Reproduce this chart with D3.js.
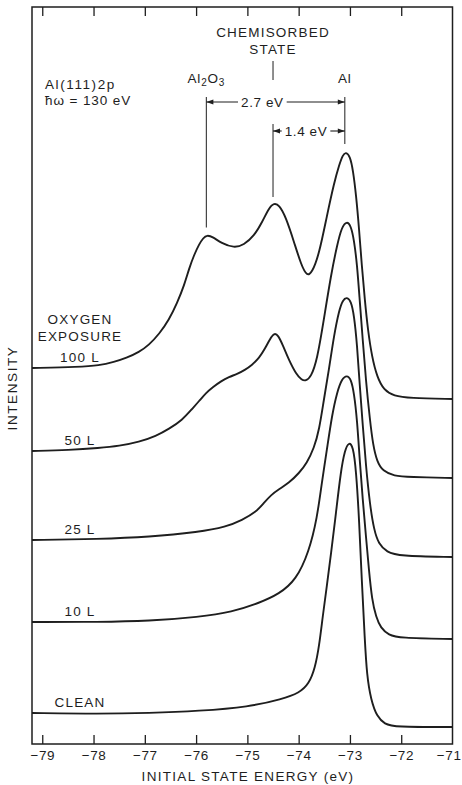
<!DOCTYPE html>
<html>
<head>
<meta charset="utf-8">
<script src="https://cdn.jsdelivr.net/npm/d3@7"></script>
<style>
  html, body { margin: 0; padding: 0; background: #fff; }
  svg { display: block; font-family: "Liberation Sans", Arial, Helvetica, sans-serif; }
</style>
</head>
<body>
<svg id="chart" width="462" height="785"></svg>
<script>
// Al(111) 2p photoemission spectra after increasing oxygen exposure.
// Each spectrum: [initial state energy (eV), intensity (arb. units, stacked)]
const energyTicks = [-79, -78, -77, -76, -75, -74, -73, -72, -71];
const exposureLabels = ["100 L", "50 L", "25 L", "10 L", "CLEAN"];

const spectrum100L = [
  [-79.2, 37.6], [-78.28, 37.7], [-77.89, 37.85], [-77.60, 38.2], [-77.36, 38.6],
  [-77.11, 39.2], [-76.92, 39.9], [-76.72, 41.0], [-76.53, 42.4], [-76.37, 44.1],
  [-76.23, 45.9], [-76.14, 47.5], [-76.04, 48.9], [-75.94, 50.0], [-75.86, 50.6],
  [-75.79, 50.9], [-75.67, 50.7], [-75.51, 50.1], [-75.26, 49.6], [-75.07, 49.9],
  [-74.87, 50.8], [-74.71, 52.2], [-74.58, 53.6], [-74.48, 54.1], [-74.38, 53.9],
  [-74.25, 52.7], [-74.09, 50.2], [-73.95, 47.9], [-73.84, 46.8], [-73.74, 47.1],
  [-73.60, 49.0], [-73.45, 52.8], [-73.31, 56.1], [-73.21, 57.9], [-73.14, 58.9],
  [-73.08, 59.2], [-73.00, 58.8], [-72.94, 57.4], [-72.88, 54.9], [-72.82, 51.4],
  [-72.77, 47.9], [-72.71, 44.4], [-72.65, 41.4], [-72.57, 38.7], [-72.47, 36.7],
  [-72.34, 35.4], [-72.14, 34.8], [-71.85, 34.6], [-71.0, 34.5]
];

const spectrum50L = [
  [-79.2, 29.3], [-78.47, 29.4], [-77.89, 29.6], [-77.50, 29.8], [-77.11, 30.2],
  [-76.78, 30.8], [-76.53, 31.5], [-76.27, 32.4], [-76.08, 33.5], [-75.94, 34.3],
  [-75.81, 35.1], [-75.67, 35.7], [-75.51, 36.3], [-75.36, 36.7], [-75.20, 37.0],
  [-75.05, 37.4], [-74.91, 37.9], [-74.77, 38.6], [-74.66, 39.5], [-74.56, 40.5],
  [-74.48, 41.1], [-74.40, 40.9], [-74.31, 39.9], [-74.19, 38.4], [-74.05, 37.0],
  [-73.94, 36.4], [-73.86, 36.3], [-73.76, 36.7], [-73.64, 38.4], [-73.51, 42.4],
  [-73.37, 46.9], [-73.25, 49.9], [-73.16, 51.7], [-73.06, 52.3], [-72.98, 51.8],
  [-72.92, 50.4], [-72.86, 47.9], [-72.81, 44.4], [-72.75, 40.4], [-72.69, 36.4],
  [-72.61, 32.4], [-72.55, 29.9], [-72.47, 28.2], [-72.36, 27.3], [-72.14, 26.8],
  [-71.85, 26.7], [-71.0, 26.6]
];

const spectrum25L = [
  [-79.2, 20.4], [-77.89, 20.5], [-76.92, 20.7], [-75.94, 21.2], [-75.42, 21.7],
  [-75.10, 22.4], [-74.83, 23.2], [-74.68, 24.1], [-74.54, 24.9], [-74.38, 25.5],
  [-74.19, 26.1], [-73.99, 27.1], [-73.84, 28.1], [-73.70, 29.6], [-73.60, 31.4],
  [-73.51, 34.4], [-73.41, 37.4], [-73.31, 40.9], [-73.21, 43.4], [-73.14, 44.4],
  [-73.06, 44.7], [-72.98, 44.3], [-72.92, 42.9], [-72.86, 39.9], [-72.81, 35.9],
  [-72.75, 31.9], [-72.69, 27.9], [-72.61, 23.9], [-72.53, 21.4], [-72.44, 20.0],
  [-72.28, 19.2], [-72.05, 18.8], [-71.0, 18.7]
];

const spectrum10L = [
  [-79.2, 12.2], [-77.89, 12.2], [-76.92, 12.3], [-75.94, 12.7], [-75.30, 13.2],
  [-74.77, 14.1], [-74.38, 15.0], [-74.05, 16.4], [-73.80, 19.2], [-73.64, 22.6],
  [-73.55, 26.1], [-73.45, 29.4], [-73.35, 32.9], [-73.25, 35.2], [-73.16, 36.5],
  [-73.06, 36.9], [-72.98, 36.5], [-72.92, 35.1], [-72.86, 32.4], [-72.81, 28.4],
  [-72.75, 24.4], [-72.69, 20.9], [-72.63, 17.4], [-72.57, 14.4], [-72.49, 12.7],
  [-72.40, 11.6], [-72.24, 10.9], [-72.05, 10.6], [-71.0, 10.5]
];

const spectrumClean = [
  [-79.2, 3.1], [-77.89, 3.0], [-76.92, 3.1], [-75.94, 3.3], [-74.97, 3.7],
  [-74.32, 4.5], [-73.99, 5.1], [-73.80, 6.0], [-73.68, 7.6], [-73.60, 9.8],
  [-73.53, 12.8], [-73.45, 15.8], [-73.37, 19.0], [-73.27, 23.2], [-73.18, 27.2],
  [-73.10, 29.4], [-73.02, 30.2], [-72.94, 29.8], [-72.88, 27.4], [-72.82, 22.4],
  [-72.77, 16.4], [-72.71, 10.4], [-72.67, 6.9], [-72.59, 4.4], [-72.47, 2.7],
  [-72.32, 2.0], [-72.14, 1.7], [-71.0, 1.7]
];

// Component binding energies marked above the top spectrum
const alEnergy = -73.1;
const chemisorbedEnergy = -74.5;
const oxideEnergy = -75.8;
const shiftOxide = 2.7;        // eV, Al2O3 relative to Al
const shiftChemisorbed = 1.4;  // eV, chemisorbed relative to Al

const spectra = [spectrum100L, spectrum50L, spectrum25L, spectrum10L, spectrumClean];

// ---------------------------------------------------------------- layout
const svg = d3.select("#chart");
const ink = "#1e1e1e";
const frame = { left: 32, right: 452.5, top: 7, bottom: 744 };

const x = d3.scaleLinear().domain([-79.2, -71]).range([frame.left, frame.right]);
const y = d3.scaleLinear().domain([0, 73.7]).range([frame.bottom, frame.top]);

// value of a spectrum at energy e (linear between read points)
function valueAt(spec, e) {
  for (let i = 1; i < spec.length; i++) {
    if (spec[i][0] >= e) {
      const [e0, v0] = spec[i - 1], [e1, v1] = spec[i];
      return v0 + (v1 - v0) * (e - e0) / (e1 - e0);
    }
  }
  return spec[spec.length - 1][1];
}

// frame
svg.append("rect")
  .attr("x", frame.left).attr("y", frame.top)
  .attr("width", frame.right - frame.left).attr("height", frame.bottom - frame.top)
  .attr("fill", "none").attr("stroke", ink).attr("stroke-width", 1.5);

// bottom axis with inward ticks
const xAxis = svg.append("g")
  .attr("transform", `translate(0,${frame.bottom})`)
  .call(d3.axisBottom(x).tickValues(energyTicks).tickSizeInner(-9).tickSizeOuter(0).tickPadding(6));
xAxis.select(".domain").remove();
xAxis.selectAll(".tick line").attr("stroke", ink).attr("stroke-width", 1.3);
xAxis.selectAll(".tick text")
  .attr("fill", ink).style("font-size", "13.5px").style("letter-spacing", "0.6px")
  .style("font-family", "'Liberation Sans', Arial, sans-serif");
const lastTick = xAxis.selectAll(".tick").filter(d => d === -71);
lastTick.select("line").remove();
// keep the corner label inside the page
lastTick.select("text").attr("text-anchor", "end").attr("x", 462 - x(-71) - 1);

// top axis, ticks only
const xTop = svg.append("g")
  .attr("transform", `translate(0,${frame.top})`)
  .call(d3.axisTop(x).tickValues(energyTicks.slice(0, -1)).tickSizeInner(-9).tickSizeOuter(0).tickFormat(""));
xTop.select(".domain").remove();
xTop.selectAll(".tick line").attr("stroke", ink).attr("stroke-width", 1.3);

// spectra, drawn as smooth B-splines through the read points
const line = d3.line()
  .x(d => x(d[0]))
  .y(d => y(d[1]))
  .curve(d3.curveBasis);

svg.append("g").selectAll("path")
  .data(spectra)
  .join("path")
  .attr("d", line)
  .attr("fill", "none")
  .attr("stroke", ink)
  .attr("stroke-width", 1.9)
  .attr("stroke-linejoin", "round");

// text helper
function label(txt, px, py, opts = {}) {
  return svg.append("text")
    .attr("x", px).attr("y", py)
    .attr("text-anchor", opts.anchor || "middle")
    .attr("fill", ink)
    .style("font-size", (opts.size || 13.5) + "px")
    .style("letter-spacing", (opts.spacing == null ? 1.2 : opts.spacing) + "px")
    .text(txt);
}

// exposure labels sitting on each spectrum's left baseline
const labelX = 80;
spectra.forEach((spec, i) => {
  label(exposureLabels[i], labelX, y(spec[0][1]) - 6);
});
const firstLabelY = y(spectrum100L[0][1]) - 6;
label("OXYGEN", labelX, firstLabelY - 38);
label("EXPOSURE", labelX, firstLabelY - 21);

// sample / photon energy
label("Al(111)2p", 45, 89, { anchor: "start", spacing: 1.6 });
label("\u0127\u03c9 = 130 eV", 45, 105, { anchor: "start", spacing: 0.9 });

// component markers
const thin = 1.1;
const markColor = "#333";
function vline(xv, y1, y2) {
  svg.append("line")
    .attr("x1", xv).attr("x2", xv).attr("y1", y1).attr("y2", y2)
    .attr("stroke", markColor).attr("stroke-width", thin);
}
const xOx = x(oxideEnergy), xCh = x(chemisorbedEnergy), xAl = x(alEnergy);
vline(xOx, 97, y(valueAt(spectrum100L, oxideEnergy)) - 8);
vline(xCh, 61, 80);
vline(xCh, 124, y(valueAt(spectrum100L, chemisorbedEnergy)) - 7);
vline(xAl, 97, y(valueAt(spectrum100L, alEnergy)) - 9);

label("CHEMISORBED", xCh, 37);
label("STATE", xCh, 54);
label("Al", xAl, 83, { spacing: 0.8 });

// Al2O3 with subscripts
const ox = svg.append("text")
  .attr("x", xOx).attr("y", 83).attr("text-anchor", "middle").attr("fill", ink)
  .style("font-size", "13.5px").style("letter-spacing", "0.8px");
ox.append("tspan").text("Al");
ox.append("tspan").attr("dy", 3).style("font-size", "10px").text("2");
ox.append("tspan").attr("dy", -3).text("O");
ox.append("tspan").attr("dy", 3).style("font-size", "10px").text("3");

// dimension arrows
function arrowHead(px, py, dir) {
  const L = 7, w = 2.6;
  svg.append("path")
    .attr("d", `M${px},${py}L${px - dir * L},${py - w}L${px - dir * L},${py + w}Z`)
    .attr("fill", ink);
}
function dimension(x1, x2, py, txt, cx) {
  const t = label(txt, cx, py + 4.5, { spacing: 0.6 });
  const w = t.node().getComputedTextLength();
  const gap = 3;
  svg.append("line").attr("x1", x1).attr("x2", cx - w / 2 - gap).attr("y1", py).attr("y2", py)
    .attr("stroke", ink).attr("stroke-width", thin);
  svg.append("line").attr("x1", cx + w / 2 + gap).attr("x2", x2).attr("y1", py).attr("y2", py)
    .attr("stroke", ink).attr("stroke-width", thin);
  arrowHead(x1, py, -1);
  arrowHead(x2, py, 1);
}
dimension(xOx, xAl, 102, shiftOxide.toFixed(1) + " eV", xOx + 56);
dimension(xCh, xAl, 131, shiftChemisorbed.toFixed(1) + " eV", xCh + 33);

// axis titles
label("INITIAL STATE ENERGY (eV)", 248, 781, { spacing: 1.3 });
svg.append("text")
  .attr("transform", "translate(17,388) rotate(-90)")
  .attr("text-anchor", "middle").attr("fill", ink)
  .style("font-size", "13.5px").style("letter-spacing", "1.6px")
  .text("INTENSITY");
</script>
</body>
</html>
